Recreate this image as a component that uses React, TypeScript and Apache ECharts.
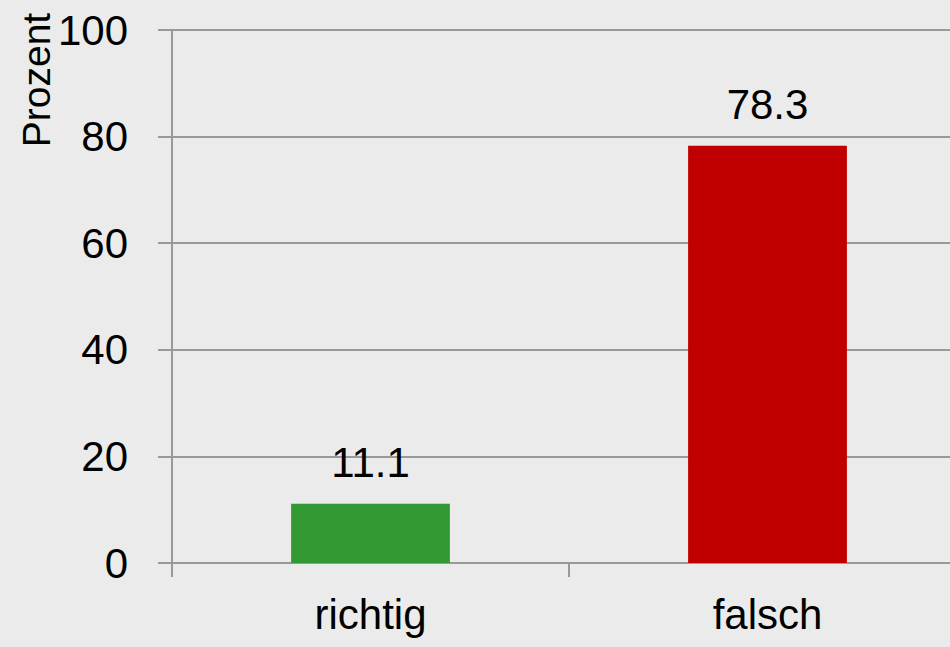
import React, { useEffect, useRef } from "react";
import * as echarts from "echarts";

const categories = ["richtig", "falsch"];
const values = [11.1, 78.3];
const barColors = ["#339933", "#c00000"];
const yTicks = { min: 0, max: 100, interval: 20 };
const yName = "Prozent";

const FONT = "'Liberation Sans Narrow', 'Arial Narrow', 'Liberation Sans', sans-serif";
const FS = 42;

export default function App() {
  const ref = useRef<HTMLDivElement>(null);
  useEffect(() => {
    document.body.style.margin = "0";
    const chart = echarts.init(ref.current!, undefined, { renderer: "svg" });
    chart.setOption({
      animation: false,
      backgroundColor: "#ebebeb",
      textStyle: { fontFamily: FONT },
      grid: { left: 172, right: 0, top: 30, bottom: 84, containLabel: false },
      graphic: [
        {
          type: "text",
          x: 17,
          y: 80,
          rotation: Math.PI / 2,
          style: {
            text: yName,
            font: `39px ${FONT}`,
            fill: "#000",
            textAlign: "center",
            textVerticalAlign: "top",
          },
        },
      ],
      xAxis: {
        type: "category",
        data: categories,
        boundaryGap: true,
        axisLine: { show: true, lineStyle: { color: "#999", width: 2 } },
        axisTick: { show: true, length: 14, lineStyle: { color: "#999", width: 2 } },
        axisLabel: { color: "#000", fontSize: FS, fontFamily: FONT, margin: 30 },
      },
      yAxis: {
        type: "value",
        min: yTicks.min,
        max: yTicks.max,
        interval: yTicks.interval,
        axisLine: { show: true, lineStyle: { color: "#999", width: 2 } },
        axisTick: { show: true, length: 14, lineStyle: { color: "#999", width: 2 } },
        splitLine: { show: true, lineStyle: { color: "#999", width: 2 } },
        axisLabel: { color: "#000", fontSize: FS, fontFamily: FONT, margin: 44 },
      },
      series: [
        {
          type: "bar",
          barWidth: "40%",
          data: values.map((v, i) => ({ value: v, itemStyle: { color: barColors[i] } })),
          label: {
            show: true,
            position: "top",
            distance: 20,
            color: "#000",
            fontSize: FS,
            fontFamily: FONT,
          },
        },
      ],
    });
    return () => chart.dispose();
  }, []);
  return (
    <div style={{ position: "absolute", left: 0, top: 0, width: 950, height: 647, overflow: "hidden" }}>
      <div ref={ref} style={{ width: 966, height: 647 }} />
    </div>
  );
}
